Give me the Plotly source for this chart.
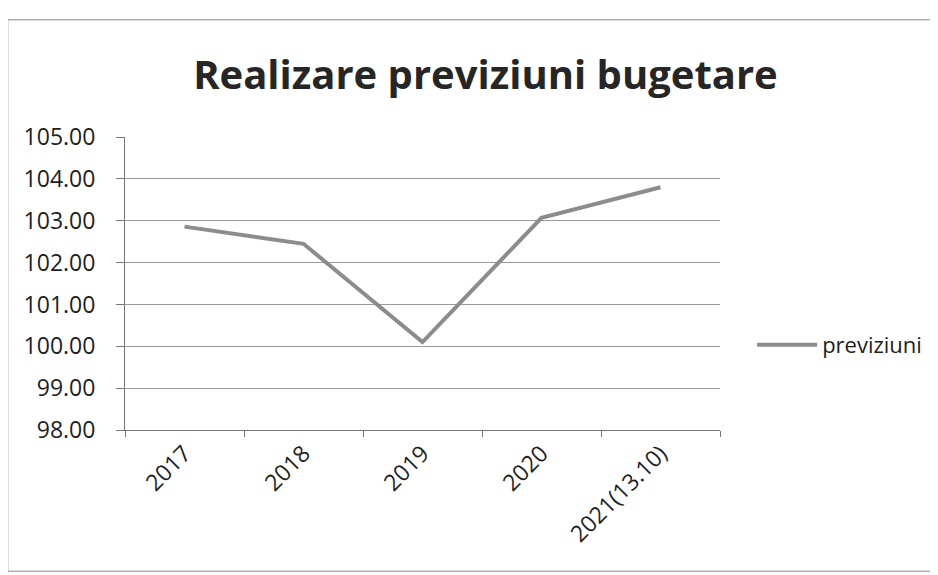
import plotly.graph_objects as go

categories = ["2017", "2018", "2019", "2020", "2021(13.10)"]
previziuni = [102.86, 102.45, 100.10, 103.07, 103.80]
y_ticks = [98, 99, 100, 101, 102, 103, 104, 105]

FONT = "Open Sans"
TEXT = "#1e1e1e"
GRID = "#9a9a9a"

fig = go.Figure()
fig.add_trace(go.Scatter(
    x=categories, y=previziuni, mode="lines", name="previziuni",
    line=dict(color="#8c8c8c", width=4),
))

fig.update_layout(
    width=938, height=575,
    paper_bgcolor="white", plot_bgcolor="white",
    margin=dict(l=117, r=226, t=129, b=153),
    font=dict(family=FONT, size=23, color=TEXT),
    title=dict(text="<b>Realizare previziuni bugetare</b>", x=0.509, xanchor="center",
               y=0.883, yanchor="middle", font=dict(family=FONT, size=40, color="#262626")),
    showlegend=True,
    legend=dict(x=1.054, xanchor="left", y=0.29, yanchor="middle",
                font=dict(family=FONT, size=22, color=TEXT),
                bgcolor="rgba(0,0,0,0)", itemwidth=60),
    shapes=[dict(type="rect", xref="paper", yref="paper",
                 x0=-0.197, x1=1.6, y0=-0.482, y1=1.40,
                 line=dict(color="#8a8a8a", width=1))],
)

fig.update_xaxes(
    type="category", tickangle=-45, tickson="boundaries",
    range=[-0.5, len(categories) - 0.5],
    ticks="outside", ticklen=6, tickcolor="#777777",
    showline=True, linecolor="#777777", linewidth=1,
    showgrid=False, tickfont=dict(size=23, color=TEXT),
)
fig.update_yaxes(
    range=[98, 105.002], tickvals=y_ticks, tickformat=".2f",
    ticks="outside", ticklen=8, tickcolor="#777777",
    showline=True, linecolor="#777777", linewidth=1,
    showgrid=True, gridcolor=GRID, gridwidth=1,
    zeroline=False, tickfont=dict(size=23, color=TEXT),
    ticklabelstandoff=16,
)

fig.write_html("out.html")
